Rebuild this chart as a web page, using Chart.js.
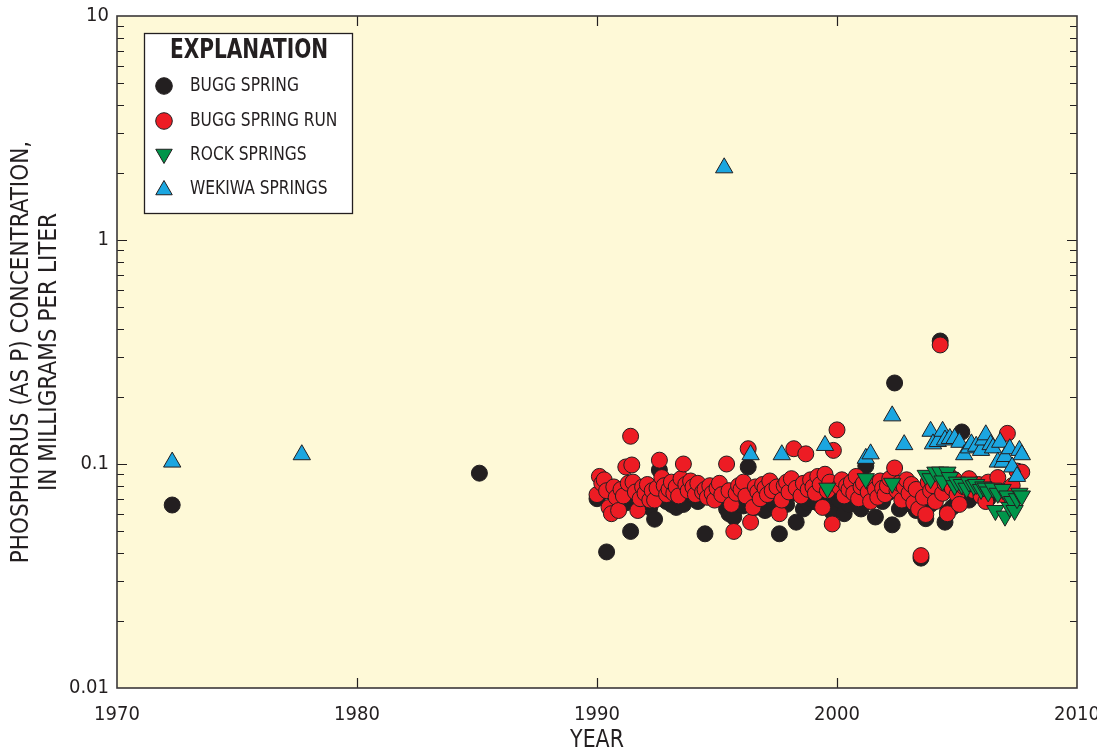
<!DOCTYPE html>
<html>
<head>
<meta charset="utf-8">
<script src="https://cdn.jsdelivr.net/npm/chart.js@4"></script>
<style>
html,body{margin:0;padding:0;background:#fff;}
#wrap{width:1097px;height:753px;}
</style>
</head>
<body>
<div id="wrap"><canvas id="c" width="1097" height="753"></canvas></div>
<script>
// ---- DATA ----
const xTicks = [1970, 1980, 1990, 2000, 2010];
const yTicks = [0.01, 0.1, 1, 10];
const seriesNames = ["BUGG SPRING", "BUGG SPRING RUN", "ROCK SPRINGS", "WEKIWA SPRINGS"];

const buggSpringYears = [1972.3,1985.1,1990.0,1990.2,1990.4,1990.6,1990.8,1991.0,1991.2,1991.4,1991.7,1992.0,1992.2,1992.4,1992.6,1992.7,1992.9,1993.1,1993.3,1993.4,1993.6,1993.9,1994.2,1994.5,1994.8,1995.1,1995.4,1995.5,1995.7,1995.9,1996.1,1996.3,1996.6,1996.9,1997.0,1997.2,1997.4,1997.6,1997.9,1998.1,1998.3,1998.6,1998.8,1998.9,1999.2,1999.5,1999.7,1999.8,2000.1,2000.3,2000.5,2000.6,2000.9,2001.0,2001.2,2001.4,2001.6,2001.9,2002.1,2002.3,2002.4,2002.6,2002.7,2003.0,2003.1,2003.3,2003.5,2003.7,2003.9,2004.1,2004.3,2004.5,2004.6,2004.8,2005.0,2005.2,2005.5,2005.9,2006.3,2006.8,2007.2];
const buggSpringValues = [0.0656,0.091,0.070,0.075,0.0405,0.062,0.066,0.072,0.067,0.050,0.068,0.071,0.064,0.0567,0.094,0.075,0.068,0.066,0.064,0.070,0.066,0.073,0.068,0.0488,0.072,0.070,0.063,0.060,0.058,0.066,0.065,0.097,0.064,0.069,0.062,0.072,0.065,0.0488,0.066,0.074,0.055,0.063,0.067,0.070,0.067,0.073,0.064,0.061,0.069,0.060,0.066,0.072,0.066,0.063,0.098,0.071,0.058,0.068,0.074,0.0535,0.23,0.063,0.065,0.070,0.066,0.062,0.038,0.057,0.066,0.071,0.354,0.055,0.061,0.064,0.067,0.139,0.069,0.074,0.070,0.076,0.072];

const buggRunYears = [1990.0,1990.1,1990.2,1990.3,1990.4,1990.5,1990.6,1990.7,1990.8,1990.9,1991.0,1991.1,1991.2,1991.3,1991.4,1991.45,1991.5,1991.6,1991.7,1991.8,1991.9,1992.0,1992.1,1992.2,1992.3,1992.4,1992.5,1992.6,1992.7,1992.8,1992.9,1993.0,1993.1,1993.2,1993.3,1993.4,1993.5,1993.6,1993.7,1993.8,1993.9,1994.0,1994.1,1994.2,1994.4,1994.5,1994.6,1994.7,1994.8,1994.9,1995.0,1995.1,1995.2,1995.4,1995.5,1995.6,1995.7,1995.8,1995.9,1996.0,1996.1,1996.2,1996.3,1996.4,1996.5,1996.6,1996.7,1996.8,1996.9,1997.0,1997.1,1997.2,1997.3,1997.5,1997.6,1997.7,1997.8,1997.9,1998.0,1998.1,1998.2,1998.3,1998.5,1998.6,1998.7,1998.8,1998.9,1999.0,1999.1,1999.2,1999.3,1999.4,1999.5,1999.6,1999.7,1999.8,1999.85,2000.0,2000.1,2000.2,2000.3,2000.4,2000.5,2000.6,2000.7,2000.8,2000.9,2001.0,2001.1,2001.3,2001.4,2001.5,2001.6,2001.7,2001.8,2001.9,2002.0,2002.1,2002.2,2002.4,2002.5,2002.6,2002.7,2002.8,2002.9,2003.0,2003.1,2003.2,2003.3,2003.4,2003.5,2003.6,2003.7,2003.8,2003.9,2004.0,2004.1,2004.3,2004.4,2004.5,2004.6,2004.7,2004.8,2004.9,2005.0,2005.1,2005.3,2005.5,2005.7,2005.9,2006.0,2006.2,2006.3,2006.5,2006.7,2006.9,2007.1,2007.3,2007.5,2007.7];
const buggRunValues = [0.073,0.088,0.082,0.085,0.076,0.064,0.060,0.079,0.071,0.062,0.077,0.072,0.097,0.082,0.133,0.099,0.083,0.075,0.062,0.070,0.079,0.074,0.081,0.069,0.076,0.069,0.078,0.104,0.087,0.080,0.073,0.077,0.083,0.074,0.079,0.072,0.086,0.100,0.081,0.076,0.084,0.079,0.073,0.082,0.075,0.077,0.071,0.080,0.074,0.069,0.078,0.082,0.073,0.100,0.076,0.066,0.050,0.074,0.080,0.077,0.083,0.072,0.117,0.055,0.064,0.079,0.075,0.070,0.081,0.078,0.073,0.084,0.076,0.079,0.060,0.069,0.080,0.083,0.075,0.086,0.117,0.078,0.072,0.082,0.111,0.077,0.085,0.079,0.074,0.088,0.081,0.064,0.090,0.076,0.083,0.054,0.115,0.142,0.079,0.085,0.072,0.080,0.077,0.083,0.074,0.088,0.070,0.079,0.082,0.075,0.068,0.081,0.077,0.071,0.084,0.078,0.073,0.080,0.086,0.096,0.076,0.082,0.069,0.079,0.085,0.074,0.081,0.067,0.077,0.063,0.039,0.071,0.0595,0.083,0.076,0.080,0.068,0.340,0.074,0.082,0.060,0.088,0.078,0.085,0.073,0.066,0.079,0.086,0.076,0.081,0.072,0.068,0.083,0.077,0.087,0.073,0.137,0.080,0.093,0.092];

const rockYears = [1999.6,2001.2,2002.3,2003.7,2003.9,2004.1,2004.3,2004.4,2004.6,2004.7,2004.9,2005.0,2005.2,2005.4,2005.5,2005.7,2005.8,2006.0,2006.1,2006.2,2006.3,2006.5,2006.6,2006.7,2006.9,2007.0,2007.1,2007.2,2007.3,2007.4,2007.5,2007.6,2007.7];
const rockValues = [0.078,0.086,0.082,0.089,0.086,0.092,0.092,0.084,0.092,0.087,0.080,0.083,0.081,0.078,0.083,0.080,0.081,0.077,0.079,0.078,0.075,0.078,0.062,0.074,0.077,0.0585,0.072,0.064,0.068,0.062,0.070,0.074,0.072];

const wekiwaYears = [1972.3,1977.7,1995.3,1996.4,1997.7,1999.5,2001.2,2001.4,2002.3,2002.8,2003.9,2004.0,2004.2,2004.4,2004.5,2004.7,2004.9,2005.1,2005.3,2005.5,2005.6,2005.8,2006.0,2006.1,2006.2,2006.4,2006.5,2006.7,2006.8,2006.9,2007.0,2007.2,2007.3,2007.5,2007.6,2007.7];
const wekiwaValues = [0.102,0.110,2.10,0.110,0.110,0.121,0.106,0.111,0.164,0.122,0.140,0.123,0.126,0.140,0.128,0.130,0.130,0.125,0.110,0.118,0.123,0.120,0.115,0.128,0.135,0.122,0.118,0.102,0.125,0.102,0.108,0.117,0.097,0.088,0.115,0.110];

// ---- STYLE ----
const FONT = "'Liberation Sans Narrow', 'DejaVu Sans Condensed', 'Liberation Sans', sans-serif";
const INK = '#231f20';
const COLORS = {spring:'#231f20', run:'#ed1c24', rock:'#00954a', wekiwa:'#1ba6e0'};
const PLOT_BG = '#fef9d7';

function pts(xs, ys){ return xs.map((x,i)=>({x:x, y:ys[i]})); }

const datasets = [
  {label:seriesNames[3], data:pts(wekiwaYears,wekiwaValues), pointStyle:'triangle', pointRadius:10, pointRotation:0, backgroundColor:COLORS.wekiwa, borderColor:INK, borderWidth:1, order:0},
  {label:seriesNames[2], data:pts(rockYears,rockValues), pointStyle:'triangle', pointRadius:10, pointRotation:180, backgroundColor:COLORS.rock, borderColor:INK, borderWidth:1, order:1},
  {label:seriesNames[1], data:pts(buggRunYears,buggRunValues), pointStyle:'circle', pointRadius:8, backgroundColor:COLORS.run, borderColor:INK, borderWidth:1, order:2},
  {label:seriesNames[0], data:pts(buggSpringYears,buggSpringValues), pointStyle:'circle', pointRadius:8, backgroundColor:COLORS.spring, borderColor:INK, borderWidth:1, order:3}
];

function squeezeText(ctx, text, x, y, sx){
  ctx.save();
  ctx.translate(x, y);
  ctx.scale(sx, 1);
  ctx.fillText(text, 0, 0);
  ctx.restore();
}

const decorPlugin = {
  id:'decor',
  beforeDatasetsDraw(chart){
    const {ctx, chartArea:a, scales:{x, y}} = chart;
    ctx.save();
    ctx.fillStyle = PLOT_BG;
    ctx.fillRect(a.left, a.top, a.right-a.left, a.bottom-a.top);
    ctx.strokeStyle = INK; ctx.lineWidth = 1.2;
    ctx.beginPath();
    for (let d=-2; d<=0; d++){
      for (let m=1; m<=9; m++){
        const v = m*Math.pow(10,d);
        if (m===1 && d===-2) continue;
        const py = Math.round(y.getPixelForValue(v))+0.5;
        const len = (m===1)?10:7;
        ctx.moveTo(a.left, py); ctx.lineTo(a.left+len, py);
        ctx.moveTo(a.right, py); ctx.lineTo(a.right-len, py);
      }
    }
    xTicks.forEach(t=>{
      if (t===xTicks[0] || t===xTicks[xTicks.length-1]) return;
      const px = Math.round(x.getPixelForValue(t))+0.5;
      ctx.moveTo(px, a.bottom); ctx.lineTo(px, a.bottom-10);
      ctx.moveTo(px, a.top); ctx.lineTo(px, a.top+10);
    });
    ctx.stroke();
    ctx.restore();
  },
  afterDraw(chart){
    const {ctx, chartArea:a} = chart;
    ctx.save();
    ctx.strokeStyle = '#3b3839'; ctx.lineWidth = 1.6;
    ctx.strokeRect(a.left, a.top, a.right-a.left, a.bottom-a.top);
    ctx.fillStyle = INK;
    ctx.textAlign = 'center'; ctx.textBaseline = 'middle';
    ctx.font = '24px ' + FONT;
    squeezeText(ctx, 'YEAR', (a.left+a.right)/2, 741, 0.95);
    ctx.save();
    ctx.translate(22, 352);
    ctx.rotate(-Math.PI/2);
    squeezeText(ctx, 'PHOSPHORUS (AS P) CONCENTRATION,', 0, 0, 1.0);
    ctx.restore();
    ctx.save();
    ctx.translate(50, 352);
    ctx.rotate(-Math.PI/2);
    squeezeText(ctx, 'IN MILLIGRAMS PER LITER', 0, 0, 1.0);
    ctx.restore();
    // legend box
    ctx.fillStyle = '#ffffff';
    ctx.fillRect(144.5, 33.5, 208, 180);
    ctx.strokeStyle = INK; ctx.lineWidth = 1.3;
    ctx.strokeRect(144.5, 33.5, 208, 180);
    ctx.fillStyle = INK;
    ctx.font = 'bold 26px ' + FONT;
    ctx.textAlign = 'center';
    squeezeText(ctx, 'EXPLANATION', 249, 51, 0.86);
    const ys = [86, 121, 155, 189];
    const order = [3,2,1,0];
    ctx.font = '20px ' + FONT;
    ctx.textAlign = 'left';
    order.forEach((di,i)=>{
      const ds = chart.data.datasets[di];
      ctx.save();
      ctx.fillStyle = ds.backgroundColor; ctx.strokeStyle = INK; ctx.lineWidth = 1;
      const r = ds.pointStyle==='triangle' ? 9.5 : 8.3;
      Chart.helpers.drawPoint(ctx, {pointStyle:ds.pointStyle, rotation:ds.pointRotation||0, radius:r, borderWidth:1}, 164, ys[i] + (ds.pointStyle==='triangle' ? (ds.pointRotation===180?-1:1) : 0));
      ctx.restore();
      ctx.fillStyle = INK;
      squeezeText(ctx, ds.label, 190, ys[i], 0.86);
    });
    ctx.restore();
  }
};

function fmtY(v){
  const l = Math.log10(v);
  if (Math.abs(l - Math.round(l)) > 1e-6) return '';
  const r = Math.round(l);
  if (r >= 0) return String(Math.pow(10, r));
  return (Math.pow(10, r)).toFixed(-r);
}

new Chart(document.getElementById('c'), {
  type:'scatter',
  data:{datasets:datasets},
  options:{
    responsive:false, animation:false, devicePixelRatio:1,
    layout:{padding:{top:16, right:20, left:0, bottom:0}},
    plugins:{legend:{display:false}, tooltip:{enabled:false}},
    scales:{
      x:{type:'linear', min:xTicks[0], max:xTicks[xTicks.length-1],
         afterBuildTicks:s=>{ s.ticks = xTicks.map(v=>({value:v})); },
         ticks:{font:{size:20, family:FONT}, color:INK, padding:15, maxRotation:0, callback:v=>String(v)},
         grid:{display:false, drawTicks:false}, border:{display:false},
         afterFit:s=>{ s.height = 65; s.paddingLeft = 0; s.paddingRight = 0; }},
      y:{type:'logarithmic', min:yTicks[0], max:yTicks[yTicks.length-1],
         afterBuildTicks:s=>{ s.ticks = yTicks.map(v=>({value:v})); },
         ticks:{font:{size:20, family:FONT}, color:INK, padding:8, callback:v=>fmtY(v)},
         grid:{display:false, drawTicks:false}, border:{display:false},
         afterFit:s=>{ s.width = 117; s.paddingTop = 0; s.paddingBottom = 0; }}
    }
  },
  plugins:[decorPlugin]
});
</script>
</body>
</html>
